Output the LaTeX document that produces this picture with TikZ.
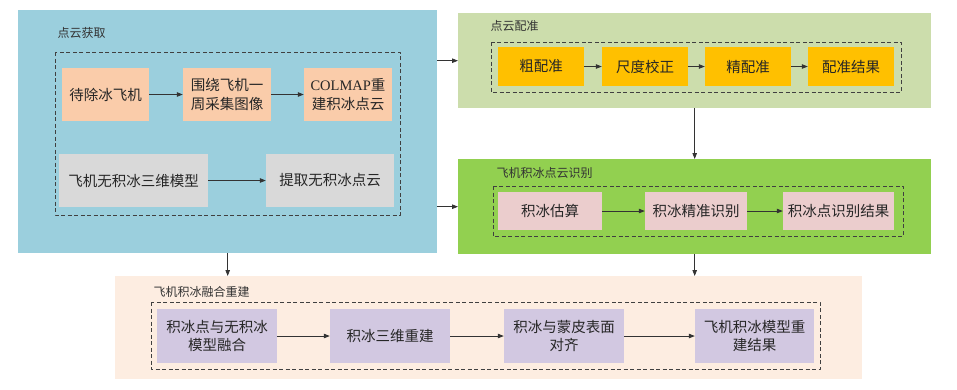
\documentclass[tikz,border=0pt]{standalone}
\usepackage{fontspec}
\usetikzlibrary{arrows.meta}
\newfontfamily\cjk{Noto Sans CJK SC}
\newfontfamily\latinserif{Liberation Serif}
\definecolor{acqblue}{RGB}{155,207,221}
\definecolor{regolive}{RGB}{204,221,172}
\definecolor{idngreen}{RGB}{146,208,80}
\definecolor{fuspeach}{RGB}{253,237,225}
\definecolor{boxpeach}{RGB}{250,204,170}
\definecolor{boxgray}{RGB}{217,217,217}
\definecolor{boxamber}{RGB}{255,192,0}
\definecolor{boxrose}{RGB}{235,205,205}
\definecolor{boxlilac}{RGB}{210,200,225}

\tikzset{
  panel/.style={rectangle,draw=none,inner sep=0pt,anchor=north west},
  stepbox/.style={rectangle,draw=none,inner sep=0pt,align=center,text=black!85,
    font=\cjk\fontsize{14.5}{18.5}\selectfont},
  paneltitle/.style={anchor=west,text=black!80,font=\cjk\fontsize{12}{14}\selectfont},
  dashbox/.style={draw=black!75,line width=0.8pt,dash pattern=on 4pt off 2.5pt},
  arr/.style={-{Triangle[length=6pt,width=4.5pt]},draw=black!80,line width=0.8pt}
}

\begin{document}
\begin{tikzpicture}[x=1pt,y=-1pt,line join=round]
\useasboundingbox (0,0) rectangle (957,389);
% panels
\node[panel,fill=acqblue,minimum width=419pt,minimum height=243pt] (acq) at (18,10) {};
\node[panel,fill=regolive,minimum width=473pt,minimum height=95pt] (reg) at (458,13) {};
\node[panel,fill=idngreen,minimum width=473pt,minimum height=95pt] (idn) at (458,159) {};
\node[panel,fill=fuspeach,minimum width=747pt,minimum height=103pt] (fus) at (115,276) {};
% titles
\node[paneltitle] (acqtitle) at (54,33) {点云获取};
\node[paneltitle] (regtitle) at (487,26) {点云配准};
\node[paneltitle] (idntitle) at (493,173) {飞机积冰点云识别};
\node[paneltitle] (fustitle) at (150,292) {飞机积冰融合重建};
% dashed frames
\draw[dashbox] (55,52) rectangle (400,215);
\draw[dashbox] (491,42) rectangle (901,92);
\draw[dashbox] (493,186) rectangle (903,236);
\draw[dashbox] (151,302) rectangle (820,369);
% point cloud acquisition
\node[stepbox,fill=boxpeach,minimum width=87pt,minimum height=53pt] (plane) at (105.5,94.5) {待除冰飞机};
\node[stepbox,fill=boxpeach,minimum width=88pt,minimum height=53pt] (images) at (227,94.5) {围绕飞机一\\周采集图像};
\node[stepbox,fill=boxpeach,minimum width=88pt,minimum height=53pt] (colmap) at (348,94.5) {{\latinserif COLMAP}重\\建积冰点云};
\node[stepbox,fill=boxgray,minimum width=149pt,minimum height=53pt] (model) at (133.5,180.5) {飞机无积冰三维模型};
\node[stepbox,fill=boxgray,minimum width=128pt,minimum height=53pt] (clean) at (330,180.5) {提取无积冰点云};
\draw[arr] (plane) -- (images);
\draw[arr] (images) -- (colmap);
\draw[arr] (model) -- (clean);
% registration
\node[stepbox,fill=boxamber,minimum width=86pt,minimum height=39pt] (coarse) at (541,66.5) {粗配准};
\node[stepbox,fill=boxamber,minimum width=86pt,minimum height=39pt] (scale) at (645,66.5) {尺度校正};
\node[stepbox,fill=boxamber,minimum width=86pt,minimum height=39pt] (fine) at (748,66.5) {精配准};
\node[stepbox,fill=boxamber,minimum width=86pt,minimum height=39pt] (regout) at (851,66.5) {配准结果};
\draw[arr] (coarse) -- (scale);
\draw[arr] (scale) -- (fine);
\draw[arr] (fine) -- (regout);
% ice identification
\node[stepbox,fill=boxrose,minimum width=104pt,minimum height=38pt] (estim) at (550,211) {积冰估算};
\node[stepbox,fill=boxrose,minimum width=102pt,minimum height=38pt] (exact) at (696,211) {积冰精准识别};
\node[stepbox,fill=boxrose,minimum width=111pt,minimum height=38pt] (idnout) at (838.5,211) {积冰点识别结果};
\draw[arr] (estim) -- (exact);
\draw[arr] (exact) -- (idnout);
% fusion and reconstruction
\node[stepbox,fill=boxlilac,minimum width=120pt,minimum height=54pt] (merge) at (217,336) {积冰点与无积冰\\模型融合};
\node[stepbox,fill=boxlilac,minimum width=120pt,minimum height=54pt] (recon) at (390,336) {积冰三维重建};
\node[stepbox,fill=boxlilac,minimum width=120pt,minimum height=54pt] (align) at (564,336) {积冰与蒙皮表面\\对齐};
\node[stepbox,fill=boxlilac,minimum width=119pt,minimum height=54pt] (final) at (754.5,336) {飞机积冰模型重\\建结果};
\draw[arr] (merge) -- (recon);
\draw[arr] (recon) -- (align);
\draw[arr] (align) -- (final);
% links between stages
\draw[arr] (acq.east |- reg.west) -- (reg.west);
\draw[arr] (acq.east |- idn.west) -- (idn.west);
\draw[arr] (reg) -- (idn);
\draw[arr] (acq.south) -- (acq.south |- fus.north);
\draw[arr] (idn.south) -- (idn.south |- fus.north);
\end{tikzpicture}
\end{document}
